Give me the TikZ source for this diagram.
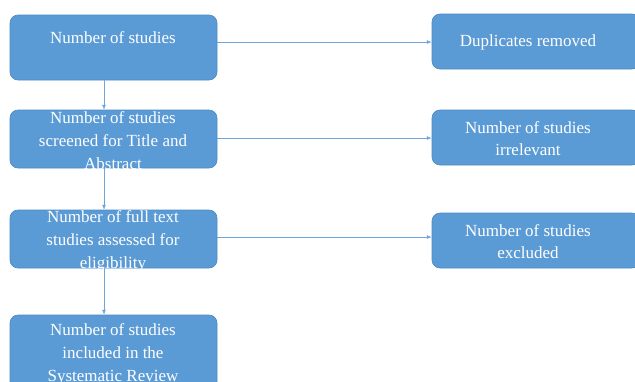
\documentclass[tikz,border=0pt]{standalone}
\usepackage{fontspec}
\setmainfont{Liberation Serif}
\usetikzlibrary{arrows.meta}
\definecolor{boxblue}{HTML}{5B9BD5}
\definecolor{edgeblue}{HTML}{4A88C2}
\definecolor{arrowblue}{HTML}{6FA6DA}
\begin{document}
\begin{tikzpicture}[x=1pt,y=-1pt,
  box/.style={draw=edgeblue,line width=0.6pt,fill=boxblue,rounded corners=8pt},
  txt/.style={text=white,font=\fontsize{17}{23}\selectfont,align=center,inner sep=0pt},
  conn/.style={draw=arrowblue,line width=0.8pt,-{Latex[length=5pt,width=4pt]}}]
\useasboundingbox (0,0) rectangle (635,381);
\clip (0,0) rectangle (635,381);
% left boxes
\path[box] (10,15) rectangle (217,80) coordinate (b1c);
\node[inner sep=0pt] (b1) at (113.5,47.5) [minimum width=207pt,minimum height=65pt] {};
\path[box] (10,110) rectangle (217,168);
\node[inner sep=0pt] (b2) at (113.5,139) [minimum width=207pt,minimum height=58pt] {};
\path[box] (10,210) rectangle (217,268);
\node[inner sep=0pt] (b3) at (113.5,239) [minimum width=207pt,minimum height=58pt] {};
\path[box] (10,315) rectangle (217,400);
\node[inner sep=0pt] (b4) at (113.5,357.5) [minimum width=207pt,minimum height=85pt] {};
% right boxes
\path[box] (432,14) rectangle (640,69);
\node[inner sep=0pt] (r1) at (536,41.5) [minimum width=208pt,minimum height=55pt] {};
\path[box] (432,110) rectangle (640,165);
\node[inner sep=0pt] (r2) at (536,137.5) [minimum width=208pt,minimum height=55pt] {};
\path[box] (432,213) rectangle (640,268);
\node[inner sep=0pt] (r3) at (536,240.5) [minimum width=208pt,minimum height=55pt] {};
% texts
\node[txt] (t1) at (113,38) {Number of studies};
\node[txt] (t2) at (113,141) {Number of studies\\screened for Title and\\Abstract};
\node[txt] (t3) at (113,241) {Number of full text\\studies assessed for\\eligibility};
\node[txt] (t4) at (113,354) {Number of studies\\included in the\\Systematic Review};
\node[txt] (u1) at (528,42) {Duplicates removed};
\node[txt,font=\fontsize{17}{22}\selectfont] (u2) at (528,139) {Number of studies\\irrelevant};
\node[txt,font=\fontsize{17}{22}\selectfont] (u3) at (528,241.5) {Number of studies\\excluded};
% connectors
\draw[conn] (b1.east |- 0,42) -- (r1.west |- 0,42);
\draw[conn] (b2.east |- 0,138) -- (r2.west |- 0,138);
\draw[conn] (b3.east |- 0,237) -- (r3.west |- 0,237);
\draw[conn] (b1.south -| 104,0) -- (b2.north -| 104,0);
\draw[conn] (b2.south -| 104,0) -- (b3.north -| 104,0);
\draw[conn] (b3.south -| 104,0) -- (b4.north -| 104,0);
\end{tikzpicture}
\end{document}
